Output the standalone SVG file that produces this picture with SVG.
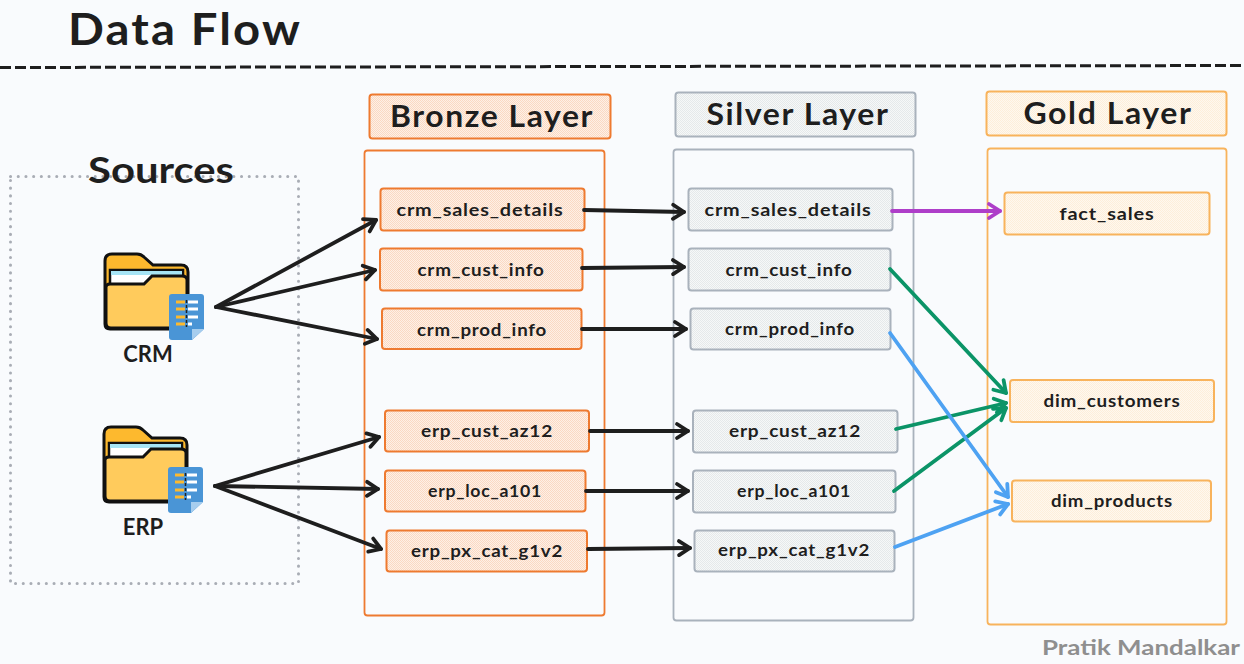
<svg xmlns="http://www.w3.org/2000/svg" width="1244" height="664" viewBox="0 0 1244 664">
<style>
text{font-family:"Lato","Noto Sans",sans-serif;font-weight:700;fill:#1e1e1e;text-anchor:middle}
.h{font-size:30px;letter-spacing:1.5px}
.n{font-size:17px;letter-spacing:.7px}
.b{fill:url(#pb);stroke:#ee7a30;stroke-width:2}
.s{fill:url(#ps);stroke:#a9b2bc;stroke-width:2}
.g{fill:url(#pg);stroke:#f8b35c;stroke-width:2}
.c{fill:none}
.k,.gr,.bl,.pu{fill:none;stroke-width:3.800;stroke-linecap:round;stroke-linejoin:round}
.k{stroke:#1e1e1e;marker-end:url(#ak)}
.gr{stroke:#0b9467;marker-end:url(#agr)}
.bl{stroke:#4ea2f2;marker-end:url(#abl)}
.pu{stroke:#ae3ec9;marker-end:url(#apu)}
</style>
<defs>
<pattern id="pb" width="2" height="2" patternUnits="userSpaceOnUse"><rect width="2" height="2" fill="#fef0e6"/><rect width="1" height="1" fill="#fad9c3"/><rect x="1" y="1" width="1" height="1" fill="#fad9c3"/></pattern>
<pattern id="ps" width="2" height="2" patternUnits="userSpaceOnUse"><rect width="2" height="2" fill="#f6f8f8"/><rect width="1" height="1" fill="#e5e9ea"/><rect x="1" y="1" width="1" height="1" fill="#e5e9ea"/></pattern>
<pattern id="pg" width="2" height="2" patternUnits="userSpaceOnUse"><rect width="2" height="2" fill="#fef8ef"/><rect width="1" height="1" fill="#fdeeda"/><rect x="1" y="1" width="1" height="1" fill="#fdeeda"/></pattern>
<marker id="ak" viewBox="0 0 20 20" refX="17" refY="10" markerWidth="20" markerHeight="20" markerUnits="userSpaceOnUse" orient="auto"><path d="M6 3L17 10L6 17" fill="none" stroke="#1e1e1e" stroke-width="3.800" stroke-linecap="round" stroke-linejoin="round"/></marker>
<marker id="agr" viewBox="0 0 20 20" refX="17" refY="10" markerWidth="20" markerHeight="20" markerUnits="userSpaceOnUse" orient="auto"><path d="M6 3L17 10L6 17" fill="none" stroke="#0b9467" stroke-width="3.800" stroke-linecap="round" stroke-linejoin="round"/></marker>
<marker id="abl" viewBox="0 0 20 20" refX="17" refY="10" markerWidth="20" markerHeight="20" markerUnits="userSpaceOnUse" orient="auto"><path d="M6 3L17 10L6 17" fill="none" stroke="#4ea2f2" stroke-width="3.800" stroke-linecap="round" stroke-linejoin="round"/></marker>
<marker id="apu" viewBox="0 0 20 20" refX="17" refY="10" markerWidth="20" markerHeight="20" markerUnits="userSpaceOnUse" orient="auto"><path d="M6 3L17 10L6 17" fill="none" stroke="#ae3ec9" stroke-width="3.800" stroke-linecap="round" stroke-linejoin="round"/></marker>
<g id="folder">
<path d="M0 71V8Q0 1 7 1H32Q36 1 39 4L48 12H76Q83 12 83 19V71Q83 76 78 76H5Q0 76 0 71Z" fill="#fdb92e" stroke="#111" stroke-width="3"/>
<rect x="5" y="17" width="73" height="22" fill="#fff" stroke="#111" stroke-width="2.500"/>
<rect x="6" y="18" width="71" height="4" fill="#a6e4f5"/>
<path d="M1 34Q1 31 5 31H39L47 23H77Q82 23 82 27V70Q82 75 77 75H6Q1 75 1 70Z" fill="#ffcb5c" stroke="#111" stroke-width="3"/>
<path d="M64 44Q64 41 67 41H96Q99 41 99 44V76L87 87H67Q64 87 64 84Z" fill="#4a95d6"/>
<path d="M87 87V76H99Z" fill="#a6cdee"/>
<path d="M71 49H80M71 56H80M71 64H80M71 71H80" stroke="#fdb92e" stroke-width="3"/>
<path d="M83 49H93M83 56H93M83 64H93M83 71H87" stroke="#fff" stroke-width="3"/>
<path d="M81.500 47V74" stroke="#222" stroke-width="1.500" stroke-dasharray="3 2"/>
</g>
</defs>
<rect width="1244" height="664" fill="#f9fbfd"/>
<g id="title"><text x="185" y="45" style="font-size:44px;letter-spacing:2px" textLength="234" lengthAdjust="spacingAndGlyphs">Data Flow</text></g>
<path id="divider" d="M0 67.500L1244 65.500" fill="none" stroke="#1e1e1e" stroke-width="3" stroke-dasharray="11 4"/>
<g id="sources">
<rect x="10.500" y="176.500" width="288" height="407" fill="none" stroke="#a9adb5" stroke-width="3" stroke-linecap="round" stroke-dasharray="0.1 7.600"/>
<text x="161" y="183" style="font-size:36px" textLength="146" lengthAdjust="spacingAndGlyphs">Sources</text>
</g>
<g id="source-crm"><use href="#folder" x="105" y="253"/><text x="148" y="362" style="font-size:22px">CRM</text></g>
<g id="source-erp"><use href="#folder" x="104" y="426"/><text x="143" y="535" style="font-size:22px">ERP</text></g>
<g id="bronze-title"><rect class="b" x="369.500" y="94.500" width="241" height="44" rx="3"/><text class="h" x="492" y="127" textLength="204" lengthAdjust="spacingAndGlyphs">Bronze Layer</text></g>
<g id="silver-title"><rect class="s" x="675.500" y="92.500" width="240" height="44" rx="3"/><text class="h" x="798" y="125" textLength="183" lengthAdjust="spacingAndGlyphs">Silver Layer</text></g>
<g id="gold-title"><rect class="g" x="986.500" y="91.500" width="240" height="44" rx="3"/><text class="h" x="1108" y="124" textLength="169" lengthAdjust="spacingAndGlyphs">Gold Layer</text></g>
<g id="bronze-box"><rect class="c" x="364.500" y="150.500" width="240" height="465" rx="3" stroke="#ee7a30" stroke-width="1.800"/></g>
<g id="silver-box"><rect class="c" x="673.500" y="149.500" width="240" height="471" rx="3" stroke="#a9b2bc" stroke-width="1.800"/></g>
<g id="gold-box"><rect class="c" x="987.500" y="148.500" width="239" height="476" rx="3" stroke="#f8b35c" stroke-width="1.800"/></g>
<g id="b1"><rect class="b" x="380.500" y="188.500" width="204" height="42" rx="3"/><text class="n" x="480" y="216" textLength="167" lengthAdjust="spacingAndGlyphs">crm_sales_details</text></g>
<g id="b2"><rect class="b" x="380" y="248.500" width="202.500" height="42" rx="3"/><text class="n" x="481" y="276" textLength="127" lengthAdjust="spacingAndGlyphs">crm_cust_info</text></g>
<g id="b3"><rect class="b" x="382" y="308.500" width="199.500" height="40.500" rx="3"/><text class="n" x="482" y="336" textLength="130" lengthAdjust="spacingAndGlyphs">crm_prod_info</text></g>
<g id="b4"><rect class="b" x="385" y="410.500" width="204" height="41" rx="3"/><text class="n" x="487" y="437" textLength="132" lengthAdjust="spacingAndGlyphs">erp_cust_az12</text></g>
<g id="b5"><rect class="b" x="385" y="470.500" width="200.500" height="41" rx="3"/><text class="n" x="485" y="497" textLength="114" lengthAdjust="spacingAndGlyphs">erp_loc_a101</text></g>
<g id="b6"><rect class="b" x="386.500" y="530.500" width="200.500" height="41" rx="3"/><text class="n" x="487" y="557" textLength="152" lengthAdjust="spacingAndGlyphs">erp_px_cat_g1v2</text></g>
<g id="s1"><rect class="s" x="688.500" y="188.500" width="204" height="42" rx="3"/><text class="n" x="788" y="216" textLength="167" lengthAdjust="spacingAndGlyphs">crm_sales_details</text></g>
<g id="s2"><rect class="s" x="688.500" y="248.500" width="202" height="42" rx="3"/><text class="n" x="789" y="276" textLength="127" lengthAdjust="spacingAndGlyphs">crm_cust_info</text></g>
<g id="s3"><rect class="s" x="690.500" y="308.500" width="200" height="41" rx="3"/><text class="n" x="790" y="335" textLength="130" lengthAdjust="spacingAndGlyphs">crm_prod_info</text></g>
<g id="s4"><rect class="s" x="693" y="410.500" width="204.500" height="42" rx="3"/><text class="n" x="795" y="437" textLength="132" lengthAdjust="spacingAndGlyphs">erp_cust_az12</text></g>
<g id="s5"><rect class="s" x="693" y="470.500" width="202.500" height="42" rx="3"/><text class="n" x="794" y="497" textLength="114" lengthAdjust="spacingAndGlyphs">erp_loc_a101</text></g>
<g id="s6"><rect class="s" x="694.500" y="530.500" width="200" height="41" rx="3"/><text class="n" x="794" y="556" textLength="152" lengthAdjust="spacingAndGlyphs">erp_px_cat_g1v2</text></g>
<g id="g1"><rect class="g" x="1004.500" y="192.500" width="205" height="42" rx="3"/><text class="n" x="1107" y="220" textLength="95" lengthAdjust="spacingAndGlyphs">fact_sales</text></g>
<g id="g2"><rect class="g" x="1010" y="380" width="204" height="42" rx="3"/><text class="n" x="1112" y="407" textLength="137" lengthAdjust="spacingAndGlyphs">dim_customers</text></g>
<g id="g3"><rect class="g" x="1012" y="480.500" width="199" height="41" rx="3"/><text class="n" x="1112" y="507" textLength="122" lengthAdjust="spacingAndGlyphs">dim_products</text></g>
<g id="connectors">
<path class="k" d="M216 307L376 220"/>
<path class="k" d="M216 307L375 270"/>
<path class="k" d="M216 307L377 339"/>
<path class="k" d="M215 486L379 437"/>
<path class="k" d="M215 486L378 489"/>
<path class="k" d="M215 486L381 549"/>
<path class="k" d="M584 210L684 212"/>
<path class="k" d="M582 268L684 267"/>
<path class="k" d="M582 329L686 329"/>
<path class="k" d="M590 431L688 431"/>
<path class="k" d="M586 491L688 491"/>
<path class="k" d="M588 549L690 548"/>
<path class="pu" d="M892 211L1000 211"/>
<path class="gr" d="M890 269L1006 393"/>
<path class="gr" d="M896 429L1006 403"/>
<path class="gr" d="M894 491L1006 408"/>
<path class="bl" d="M890 333L1008 497"/>
<path class="bl" d="M895 547L1008 504"/>
</g>
<text id="credit" x="1141" y="655" style="font-size:20px;fill:#8f8f8f" textLength="198" lengthAdjust="spacingAndGlyphs">Pratik Mandalkar</text>
</svg>
